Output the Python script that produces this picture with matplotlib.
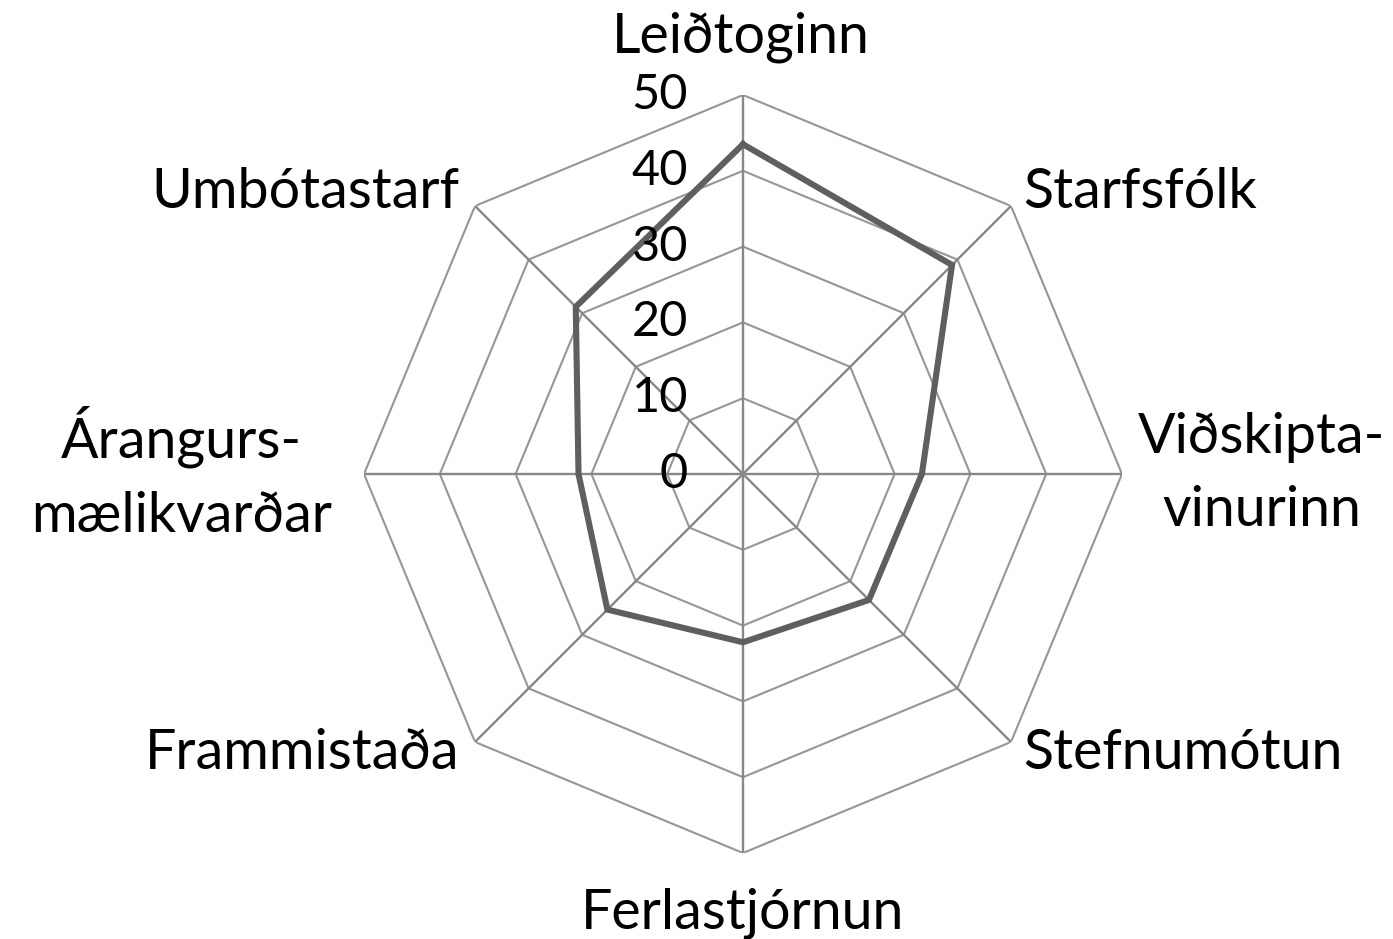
import numpy as np
import matplotlib
matplotlib.use("Agg")
import matplotlib.pyplot as plt

categories = ["Leiðtoginn", "Starfsfólk", "Viðskipta-\nvinurinn", "Stefnumótun",
              "Ferlastjórnun", "Frammistaða", "Árangurs-\nmælikvarðar", "Umbótastarf"]
values = [43.5, 39, 23.6, 23.5, 22.2, 25.3, 21.7, 31.2]
ticks = [0, 10, 20, 30, 40, 50]
rmax = 50

plt.rcParams['font.family'] = ['Lato', 'DejaVu Sans']

W, H = 1393, 939
fig = plt.figure(figsize=(W / 100, H / 100), dpi=100)
cx, cy, R = 743, 474, 379
ax = fig.add_axes([(cx - R) / W, (H - cy - R) / H, 2 * R / W, 2 * R / H], projection='polar')
ax.set_theta_zero_location('N')
ax.set_theta_direction(-1)
ax.set_ylim(0, rmax)
ax.grid(False)
ax.spines['polar'].set_visible(False)
ax.set_xticks([])
ax.set_yticks([])
ax.patch.set_alpha(0)

n = len(categories)
theta = np.arange(n) * 2 * np.pi / n
theta_closed = np.append(theta, theta[0])

grid_col = '#969696'
for t in ticks[1:]:
    ax.plot(theta_closed, [t] * (n + 1), color=grid_col, lw=1.5, zorder=1)
for th in theta:
    ax.plot([th, th], [0, rmax], color='#888888', lw=1.7, zorder=1)

vals_closed = values + [values[0]]
ax.plot(theta_closed, vals_closed, color='#5f5f5f', lw=4.4, zorder=3, solid_joinstyle='miter')

for t in ticks:
    ax.annotate(str(t), xy=(0, t), xytext=(-55, 0), textcoords='offset pixels',
                ha='right', va='center', fontsize=35, color='black', zorder=4)

label_fs = 40
offsets = [
    ((-2, 58), 'center', 'center'),
    ((12, 14), 'left', 'center'),
    ((16, 0), 'left', 'center'),
    ((12, -12), 'left', 'center'),
    ((0, -60), 'center', 'center'),
    ((-16, -12), 'right', 'center'),
    ((-32, 0), 'right', 'center'),
    ((-16, 14), 'right', 'center'),
]
for th, lab, (off, ha, va) in zip(theta, categories, offsets):
    ax.annotate(lab, xy=(th, rmax), xytext=off, textcoords='offset pixels',
                ha=ha, va=va, fontsize=label_fs, color='black',
                multialignment='center', linespacing=1.55, annotation_clip=False)

fig.savefig('out.png', dpi=100, facecolor='white')
